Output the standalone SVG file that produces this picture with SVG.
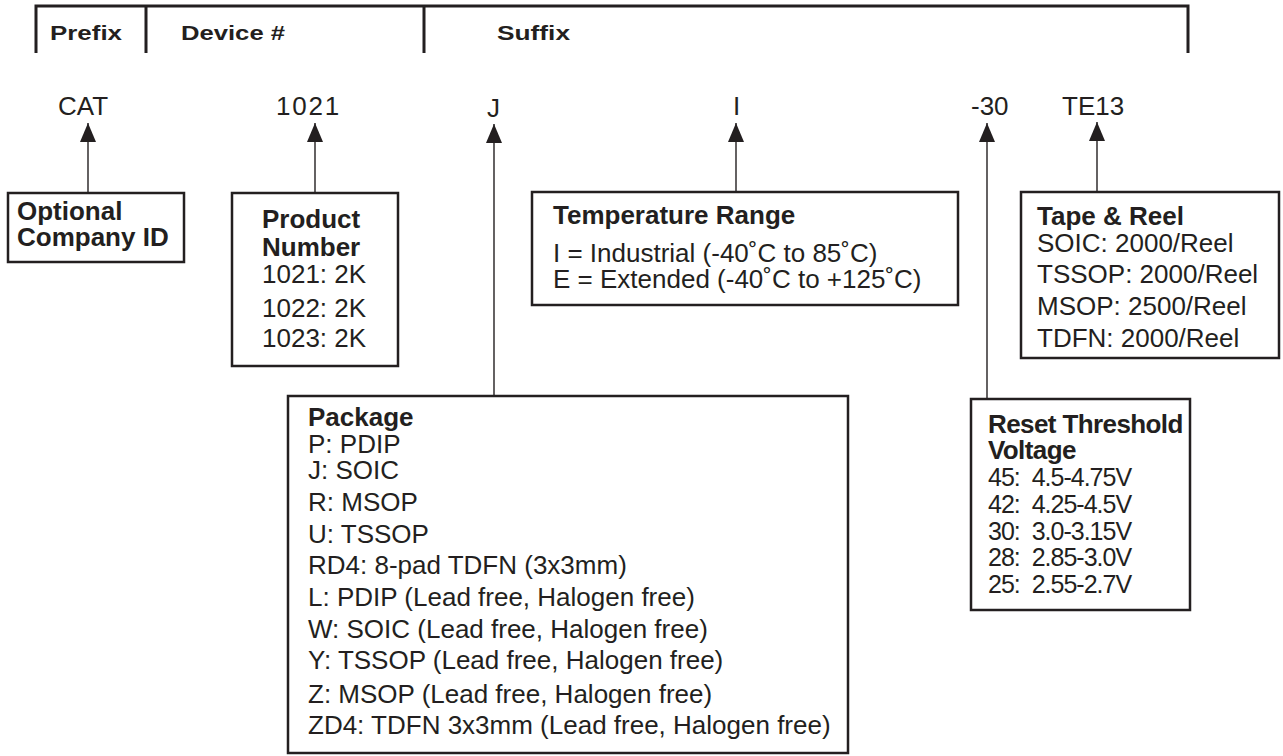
<svg xmlns="http://www.w3.org/2000/svg" width="1283" height="756" viewBox="0 0 1283 756">
<style>
text{font-family:"Liberation Sans",Arial,sans-serif;fill:#231f20}
.b{font-weight:bold;font-size:26px}
.r{font-size:26px}
.h{font-weight:bold;font-size:21px}
.box{fill:#fff;stroke:#231f20;stroke-width:2.5}
.hdr{fill:none;stroke:#231f20;stroke-width:3}
.con line{stroke:#231f20;stroke-width:1.4}
.rs{font-size:25px;letter-spacing:-1px}
</style>
<defs>
<marker id="ah" markerUnits="userSpaceOnUse" markerWidth="20" markerHeight="18" refX="19" refY="8" orient="auto">
<path d="M0,0 L19,8 L0,16 Z" fill="#231f20"/>
</marker>
</defs>
<rect width="1283" height="756" fill="#fff"/>
<g id="header">
<path class="hdr" d="M36,53 V6 H1188 V53 M146,6 V53 M424,6 V53"/>
<text class="h" x="50" y="40" textLength="72" lengthAdjust="spacingAndGlyphs">Prefix</text>
<text class="h" x="181" y="40" textLength="104" lengthAdjust="spacingAndGlyphs">Device #</text>
<text class="h" x="497" y="40" textLength="73" lengthAdjust="spacingAndGlyphs">Suffix</text>
</g>
<g id="codes">
<text class="r" x="58" y="115" font-size="25">CAT</text>
<text class="r" x="276" y="115" letter-spacing="1.8">1021</text>
<text class="r" x="487" y="117">J</text>
<text class="r" x="733" y="115">I</text>
<text class="r" x="971" y="115">-30</text>
<text class="r" x="1062" y="115">TE13</text>
</g>
<g class="con" id="connectors">
<line x1="88" y1="193" x2="88" y2="123" marker-end="url(#ah)"/>
<line x1="315" y1="193" x2="315" y2="123" marker-end="url(#ah)"/>
<line x1="494" y1="396" x2="494" y2="124" marker-end="url(#ah)"/>
<line x1="736" y1="192" x2="736" y2="123" marker-end="url(#ah)"/>
<line x1="987" y1="399" x2="987" y2="123" marker-end="url(#ah)"/>
<line x1="1097" y1="192" x2="1097" y2="122" marker-end="url(#ah)"/>
</g>
<g id="company">
<rect class="box" x="8" y="193" width="176" height="69"/>
<text class="b" x="17" y="220">Optional</text>
<text class="b" x="17" y="246">Company ID</text>
</g>
<g id="product">
<rect class="box" x="232" y="193" width="166" height="173"/>
<text class="b" x="262" y="228">Product</text>
<text class="b" x="262" y="256">Number</text>
<text class="r" x="262" y="283">1021: 2K</text>
<text class="r" x="262" y="317">1022: 2K</text>
<text class="r" x="262" y="347">1023: 2K</text>
</g>
<g id="temperature">
<rect class="box" x="532" y="192" width="426" height="113"/>
<text class="b" x="553" y="224">Temperature Range</text>
<text class="r" x="553" y="262">I = Industrial (-40˚C to 85˚C)</text>
<text class="r" x="553" y="288">E = Extended (-40˚C to +125˚C)</text>
</g>
<g id="tape">
<rect class="box" x="1021" y="192" width="258" height="166"/>
<text class="b" x="1037" y="225" font-size="25">Tape &amp; Reel</text>
<text class="r" x="1037" y="252">SOIC: 2000/Reel</text>
<text class="r" x="1037" y="283">TSSOP: 2000/Reel</text>
<text class="r" x="1037" y="315">MSOP: 2500/Reel</text>
<text class="r" x="1037" y="347">TDFN: 2000/Reel</text>
</g>
<g id="reset">
<rect class="box" x="971" y="399" width="219" height="211"/>
<text class="b" x="988" y="433" font-size="24" letter-spacing="-0.6">Reset Threshold</text>
<text class="b" x="988" y="459" font-size="24" letter-spacing="-0.6">Voltage</text>
<text class="rs" x="988" y="486">45:&#160; 4.5-4.75V</text>
<text class="rs" x="988" y="513">42:&#160; 4.25-4.5V</text>
<text class="rs" x="988" y="540">30:&#160; 3.0-3.15V</text>
<text class="rs" x="988" y="566">28:&#160; 2.85-3.0V</text>
<text class="rs" x="988" y="593">25:&#160; 2.55-2.7V</text>
</g>
<g id="package">
<rect class="box" x="288" y="396" width="560" height="357"/>
<text class="b" x="308" y="426">Package</text>
<text class="r" x="308" y="453">P: PDIP</text>
<text class="r" x="308" y="479">J: SOIC</text>
<text class="r" x="308" y="511">R: MSOP</text>
<text class="r" x="308" y="543">U: TSSOP</text>
<text class="r" x="308" y="574">RD4: 8-pad TDFN (3x3mm)</text>
<text class="r" x="308" y="606">L: PDIP (Lead free, Halogen free)</text>
<text class="r" x="308" y="638">W: SOIC (Lead free, Halogen free)</text>
<text class="r" x="308" y="669">Y: TSSOP (Lead free, Halogen free)</text>
<text class="r" x="308" y="703">Z: MSOP (Lead free, Halogen free)</text>
<text class="r" x="308" y="734">ZD4: TDFN 3x3mm (Lead free, Halogen free)</text>
</g>
</svg>
